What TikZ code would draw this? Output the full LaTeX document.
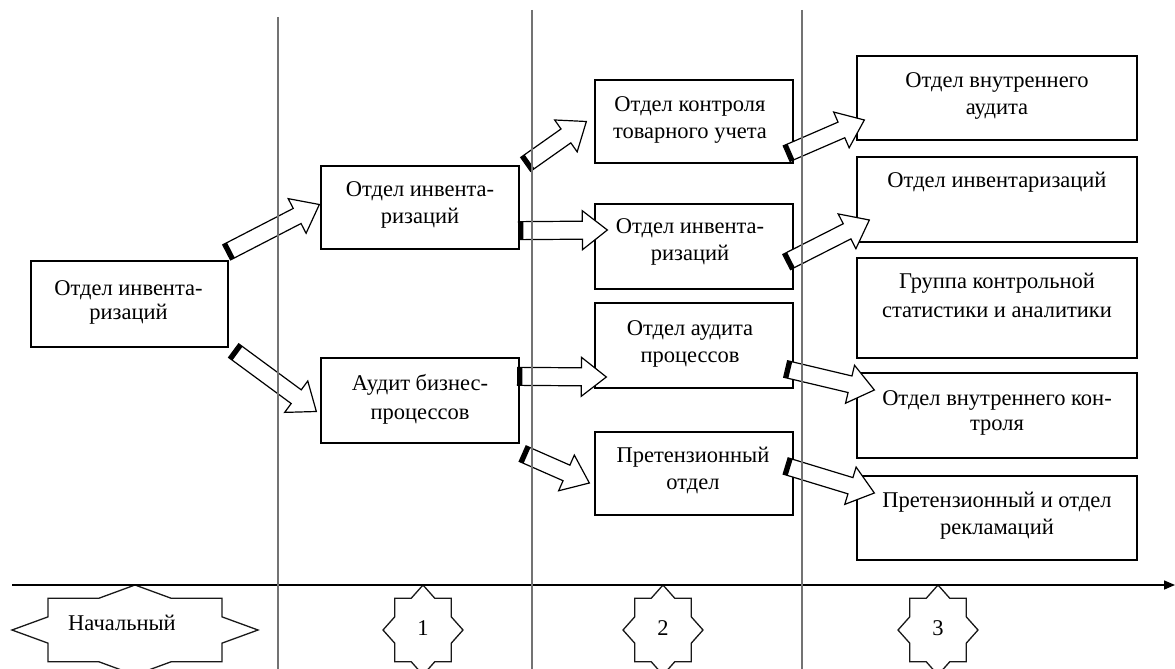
\documentclass[tikz,border=0pt]{standalone}
\usepackage{fontspec}
\setmainfont{Liberation Serif}
\usetikzlibrary{calc,arrows.meta}
\tikzset{
 box/.style={draw=black, line width=1.3pt, inner sep=0pt, fill=white},
 txt/.style={inner sep=0pt, align=center, anchor=north, font=\fontsize{22.5}{27}\selectfont, text=black},
 lbl/.style={inner sep=0pt, font=\fontsize{22.5}{27}\selectfont, text=black},
 divider/.style={draw=black!55, line width=1.4pt},
 axisline/.style={draw=black, line width=1.5pt, -{Triangle[length=11pt,width=9pt]}},
 starline/.style={draw=black!90, line width=1.3pt, fill=white},
 barrowline/.style={draw=black, line width=1.2pt, fill=white, line join=miter},
 band/.style={line width=4.5pt, draw=black},
}
\newcommand\bxarrow[4]{%
 \coordinate (bT) at (#1); \coordinate (bH) at (#2);
 \coordinate (bB) at ($(bH)!25pt!(bT)$);
 \draw[barrowline] ($(bT)!#3pt!90:(bH)$) -- ($(bB)!#3pt!-90:(bT)$) -- ($(bB)!#4pt!-90:(bT)$) -- (bH) -- ($(bB)!#4pt!90:(bT)$) -- ($(bB)!#3pt!90:(bT)$) -- ($(bT)!#3pt!-90:(bH)$) -- cycle;
 \coordinate (bT2) at ($(bT)!2.5pt!(bH)$);
 \draw[band] ($(bT2)!#3pt!90:(bH)$) -- ($(bT2)!#3pt!-90:(bH)$);
}
\newcommand\octstar[3]{%
 \draw[starline, shift={(#1)}] (0:#2 and #3) \foreach \k in {1,...,15}{ -- ({\k*22.5}:{#2*(1-0.235*mod(\k,2))} and {#3*(1-0.235*mod(\k,2))}) } -- cycle;}
\begin{document}
\begin{tikzpicture}[x=1pt,y=-1pt]
\useasboundingbox (0,0) rectangle (1175,669);
\clip (0,0) rectangle (1175,669);
% boxes
\node[box, minimum width=197pt, minimum height=86pt] (a) at (129.5,304) {};
\node[box, minimum width=198pt, minimum height=83pt] (b1) at (420,207.5) {};
\node[box, minimum width=198pt, minimum height=85pt] (b2) at (420,400.5) {};
\node[box, minimum width=198pt, minimum height=83pt] (c1) at (694,121.5) {};
\node[box, minimum width=198pt, minimum height=85pt] (c2) at (694,246.5) {};
\node[box, minimum width=198pt, minimum height=85pt] (c3) at (694,345.5) {};
\node[box, minimum width=198pt, minimum height=83pt] (c4) at (694,473.5) {};
\node[box, minimum width=280pt, minimum height=84pt] (d1) at (997,98) {};
\node[box, minimum width=280pt, minimum height=85pt] (d2) at (997,199.5) {};
\node[box, minimum width=280pt, minimum height=100pt] (d3) at (997,308) {};
\node[box, minimum width=280pt, minimum height=85pt] (d4) at (997,415.5) {};
\node[box, minimum width=280pt, minimum height=84pt] (d5) at (997,518) {};
% texts
\node[txt, font=\fontsize{22.5}{24}\selectfont] (ta) at ($(a.north)+(-1,15)$) {\rule{0pt}{20pt}Отдел инвента-\\ризаций};
\node[txt] (tb1) at ($(b1.north)+(0,11)$) {\rule{0pt}{20pt}Отдел инвента-\\ризаций};
\node[txt, font=\fontsize{22.5}{29}\selectfont] (tb2) at ($(b2.north)+(0,13)$) {\rule{0pt}{20pt}Аудит бизнес-\\процессов};
\node[txt] (tc1) at ($(c1.north)+(-4,12)$) {\rule{0pt}{20pt}Отдел контроля\\товарного учета};
\node[txt] (tc2) at ($(c2.north)+(-4,10)$) {\rule{0pt}{20pt}Отдел инвента-\\ризаций};
\node[txt] (tc3) at ($(c3.north)+(-4,13)$) {\rule{0pt}{20pt}Отдел аудита\\процессов};
\node[txt] (tc4) at ($(c4.north)+(-1,11)$) {\rule{0pt}{20pt}Претензионный\\отдел};
\node[txt] (td1) at ($(d1.north)+(0,12)$) {\rule{0pt}{20pt}Отдел внутреннего\\аудита};
\node[txt] (td2) at ($(d2.north)+(0,11)$) {\rule{0pt}{20pt}Отдел инвентаризаций};
\node[txt, font=\fontsize{22.5}{29}\selectfont] (td3) at ($(d3.north)+(0,11)$) {\rule{0pt}{20pt}Группа контрольной\\статистики и аналитики};
\node[txt, font=\fontsize{22.5}{25}\selectfont] (td4) at ($(d4.north)+(0,13)$) {\rule{0pt}{20pt}Отдел внутреннего кон-\\троля};
\node[txt] (td5) at ($(d5.north)+(0,12)$) {\rule{0pt}{20pt}Претензионный и отдел\\рекламаций};
% block arrows
\bxarrow{$(a.north east)+(-2,-8)$}{$(b1.west)+(-1,-3)$}{8.5}{19.5}
\bxarrow{$(a.south east)+(5,3)$}{$(b2.west)+(-4,11)$}{8.5}{19.5}
\bxarrow{$(b1.north east)+(6,-1)$}{$(c1.west)+(-8,0)$}{8.5}{19.5}
\bxarrow{$(b1.south east)+(-1,-19)$}{$(c2.west)+(13,-16.5)$}{9}{19.5}
\bxarrow{$(b2.north east)+(-2,19)$}{$(c3.west)+(12,31.5)$}{9}{19.5}
\bxarrow{$(b2.south east)+(3,10)$}{$(c4.west)+(-5,9.5)$}{8.5}{19.5}
\bxarrow{$(c1.south east)+(-7,-10)$}{$(d1.west)+(8,22)$}{8.5}{19.5}
\bxarrow{$(c2.east)+(-7,15.5)$}{$(d2.west)+(13,20.5)$}{8.5}{19.5}
\bxarrow{$(c3.east)+(-8,23.5)$}{$(d4.west)+(18,-25.5)$}{8.5}{19.5}
\bxarrow{$(c4.east)+(-8,-7.5)$}{$(d5.west)+(18,-25)$}{8.5}{19.5}
% stars
\coordinate (s0) at (135,630);
\coordinate (s1) at (423,630);
\coordinate (s2) at (663,630);
\coordinate (s3) at (938,630);
\octstar{s0}{123}{45}
\octstar{s1}{40}{45}
\octstar{s2}{40}{45}
\octstar{s3}{40}{45}
\node[lbl] (n0) at (122,623) {Начальный};
\node[lbl] (n1) at (423,628) {1};
\node[lbl] (n2) at (663,628) {2};
\node[lbl] (n3) at (938,628) {3};
% axis
\coordinate (ax0) at (12,585);
\coordinate (ax1) at (1175,585);
\draw[axisline] (ax0) -- (ax1);
% dividers
\coordinate (v1t) at (278,17); \coordinate (v1b) at (278,669);
\coordinate (v2t) at (532,10); \coordinate (v2b) at (532,669);
\coordinate (v3t) at (802,10); \coordinate (v3b) at (802,669);
\draw[divider] (v1t) -- (v1b);
\draw[divider] (v2t) -- (v2b);
\draw[divider] (v3t) -- (v3b);
\end{tikzpicture}
\end{document}
